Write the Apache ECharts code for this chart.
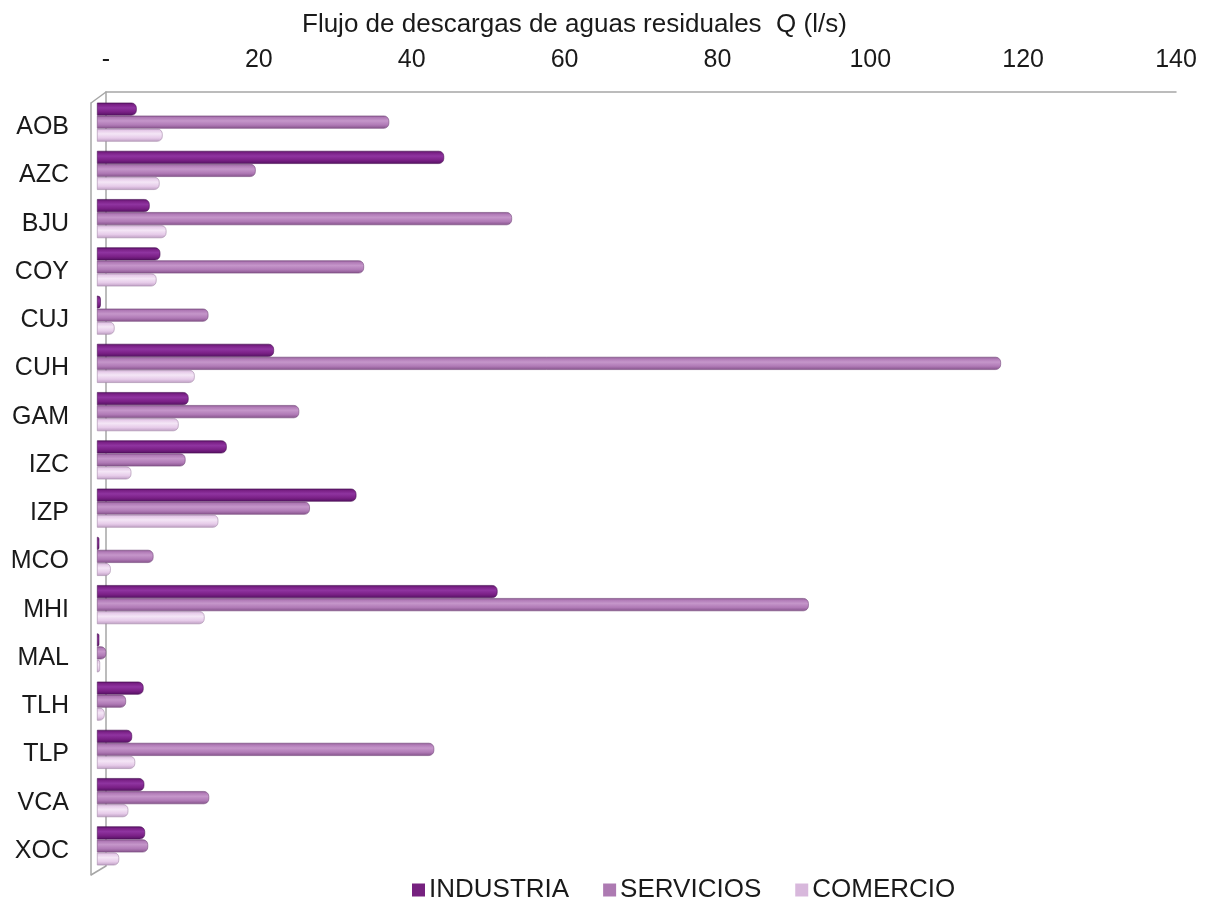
<!DOCTYPE html>
<html>
<head>
<meta charset="utf-8">
<title>Flujo de descargas de aguas residuales</title>
<script src="https://cdn.jsdelivr.net/npm/echarts@6/dist/echarts.min.js"></script>
<style>
  html, body { margin: 0; padding: 0; background: #ffffff; }
  #chart { width: 1208px; height: 897px; }
</style>
</head>
<body>
<div id="chart"></div>
<script>
// Alcaldías (clave)
const categories = ['AOB', 'AZC', 'BJU', 'COY', 'CUJ', 'CUH', 'GAM', 'IZC',
                    'IZP', 'MCO', 'MHI', 'MAL', 'TLH', 'TLP', 'VCA', 'XOC'];

// Flujo de descargas Q (l/s) por sector
const industria = [5.2, 45.5, 6.9, 8.3, 0.5, 23.2, 12.0, 17.0, 34.0, 0.3, 52.5, 0.3, 6.1, 4.6, 6.2, 6.3];
const servicios = [38.3, 20.8, 54.4, 35.0, 14.6, 118.5, 26.5, 11.6, 27.9, 7.4, 93.3, 1.2, 3.8, 44.2, 14.7, 6.7];
const comercio  = [8.6, 8.2, 9.1, 7.8, 2.3, 12.8, 10.7, 4.5, 15.9, 1.8, 14.1, 0.4, 1.0, 5.0, 4.1, 2.9];

const seriesNames = ['INDUSTRIA', 'SERVICIOS', 'COMERCIO'];
const axisTicks = [0, 20, 40, 60, 80, 100, 120, 140];

const FONT = '"Liberation Sans", Arial, sans-serif';
const FRAME = '#a6a6a6';

// cylinder-like shading for each sector
function tube(top, mid, bottom) {
  return new echarts.graphic.LinearGradient(0, 0, 0, 1, [
    { offset: 0, color: bottom },
    { offset: 0.15, color: mid },
    { offset: 0.4, color: top },
    { offset: 0.72, color: mid },
    { offset: 1, color: bottom }
  ]);
}

const palette = [
  { legend: '#76217f', fill: tube('#8f34a0', '#7a2086', '#521160'), edge: '#4a0f54' },
  { legend: '#ad7ab2', fill: tube('#c596ca', '#b07ab6', '#84528a'), edge: '#764a7c' },
  { legend: '#d8b8dc', fill: tube('#f4e6f6', '#e6cbe9', '#bd9dc2'), edge: '#a589aa' }
];

const seriesData = [industria, servicios, comercio];

const chart = echarts.init(document.getElementById('chart'), null, { renderer: 'canvas' });

const option = {
  backgroundColor: '#ffffff',
  animation: false,
  title: {
    text: 'Flujo de descargas de aguas residuales  Q (l/s)',
    left: 297,
    top: 7,
    textStyle: { fontFamily: FONT, fontSize: 26, fontWeight: 'normal', color: '#1a1a1a' }
  },
  legend: {
    left: 407,
    top: 872,
    icon: 'rect',
    itemWidth: 13,
    itemHeight: 13,
    itemGap: 34,
    textStyle: { fontFamily: FONT, fontSize: 26, color: '#1a1a1a', padding: [0, 0, 0, -1] },
    data: seriesNames.map((n, i) => ({ name: n, itemStyle: { color: palette[i].legend, borderWidth: 0 } }))
  },
  grid: [
    // bar plane
    { left: 97, right: 43, top: 98, bottom: 27 },
    // back wall
    { left: 106, right: 32, top: 92, bottom: 31 },
    // front edge, carries the category labels
    { left: 91, right: 1100, top: 103, bottom: 22 }
  ],
  xAxis: [
    { gridIndex: 0, type: 'value', min: 0, max: 140, interval: 20, show: false },
    {
      gridIndex: 1, type: 'value', position: 'top', min: 0, max: 140, interval: 20,
      axisLine: { show: true, onZero: false, lineStyle: { color: FRAME, width: 1.5 } },
      axisTick: { show: false },
      splitLine: { show: false },
      axisLabel: {
        margin: 19,
        fontFamily: FONT, fontSize: 25, color: '#1a1a1a',
        formatter: v => (v === 0 ? '-' : String(v)),
        customValues: axisTicks
      }
    },
    { gridIndex: 2, type: 'value', min: 0, max: 1, show: false }
  ],
  yAxis: [
    {
      gridIndex: 0, type: 'category', data: categories, inverse: true,
      axisLine: { show: false }, axisTick: { show: false }, axisLabel: { show: false }
    },
    {
      gridIndex: 1, type: 'value', min: 0, max: 1,
      axisLine: { show: true, onZero: false, lineStyle: { color: FRAME, width: 1.5 } },
      axisTick: { show: false }, axisLabel: { show: false }, splitLine: { show: false }
    },
    {
      gridIndex: 2, type: 'category', data: categories, inverse: true,
      axisLine: { show: true, onZero: false, lineStyle: { color: FRAME, width: 1.5 } },
      axisTick: { show: false }, splitLine: { show: false },
      axisLabel: { margin: 22, fontFamily: FONT, fontSize: 25, color: '#1a1a1a' }
    }
  ],
  // depth edges joining the front edge to the back wall
  graphic: [
    { type: 'line', shape: { x1: 91, y1: 103, x2: 106, y2: 92 },
      style: { stroke: FRAME, lineWidth: 1.5 }, silent: true },
    { type: 'line', shape: { x1: 91, y1: 875, x2: 106, y2: 866 },
      style: { stroke: FRAME, lineWidth: 1.5 }, silent: true }
  ],
  series: seriesNames.map((name, i) => ({
    name,
    type: 'bar',
    xAxisIndex: 0,
    yAxisIndex: 0,
    data: seriesData[i],
    barWidth: 13,
    barGap: '0%',
    itemStyle: {
      color: palette[i].fill,
      borderColor: palette[i].edge,
      borderWidth: 0.6,
      borderRadius: [0, 5, 5, 0]
    }
  }))
};

chart.setOption(option);
</script>
</body>
</html>
